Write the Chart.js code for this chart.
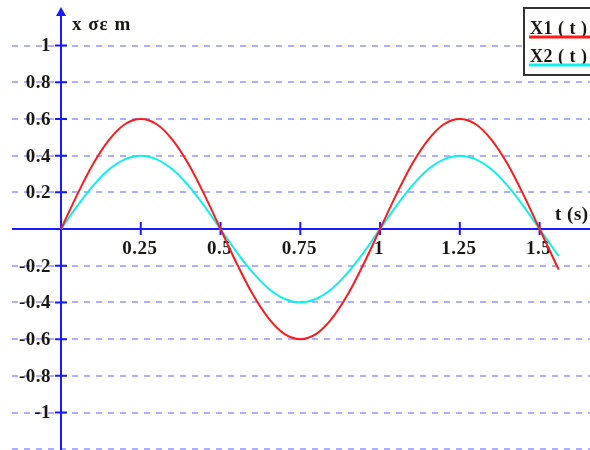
<!DOCTYPE html>
<html>
<head>
<meta charset="utf-8">
<script src="https://cdn.jsdelivr.net/npm/chart.js@4"></script>
<style>
  html, body { margin: 0; padding: 0; background: #fff; }
  #wrap { width: 590px; height: 450px; }
</style>
</head>
<body>
<div id="wrap"><canvas id="waveChart"></canvas></div>
<script>
// values (t in s, x in m)
const times = [0, 0.05, 0.1, 0.15, 0.2, 0.25, 0.3, 0.35, 0.4, 0.45, 0.5, 0.55, 0.6, 0.65, 0.7, 0.75,
    0.8, 0.85, 0.9, 0.95, 1, 1.05, 1.1, 1.15, 1.2, 1.25, 1.3, 1.35, 1.4, 1.45, 1.5, 1.55, 1.56];
const x1Values = [0, 0.185, 0.353, 0.485, 0.571, 0.6, 0.571, 0.485, 0.353, 0.185, 0, -0.185, -0.353, -0.485, -0.571, -0.6,
    -0.571, -0.485, -0.353, -0.185, 0, 0.185, 0.353, 0.485, 0.571, 0.6, 0.571, 0.485, 0.353, 0.185, 0, -0.185, -0.221];
const x2Values = [0, 0.124, 0.235, 0.324, 0.38, 0.4, 0.38, 0.324, 0.235, 0.124, 0, -0.124, -0.235, -0.324, -0.38, -0.4,
    -0.38, -0.324, -0.235, -0.124, 0, 0.124, 0.235, 0.324, 0.38, 0.4, 0.38, 0.324, 0.235, 0.124, 0, -0.124, -0.147];
const seriesLabels = ['X1 ( t )', 'X2 ( t )'];
const xTicks = [0.25, 0.5, 0.75, 1, 1.25, 1.5];
const xTickLabels = ['0.25', '0.5', '0.75', '1', '1.25', '1.5'];
const yTicks = [1, 0.8, 0.6, 0.4, 0.2, -0.2, -0.4, -0.6, -0.8, -1];
const yTickLabels = ['1', '0.8', '0.6', '0.4', '0.2', '-0.2', '-0.4', '-0.6', '-0.8', '-1'];
const gridLines = [1, 0.8, 0.6, 0.4, 0.2, 0, -0.2, -0.4, -0.6, -0.8, -1, -1.2];

const AXIS_BLUE = '#1a1aff';
const TEXT = '#1a1712';
const SERIF = '"Liberation Serif", "Times New Roman", serif';

const axesPlugin = {
    id: 'axesPlugin',
    beforeDatasetsDraw(chart) {
        const ctx = chart.ctx;
        const xs = chart.scales.x, ys = chart.scales.y;
        const area = chart.chartArea;
        const x0 = xs.getPixelForValue(0), y0 = ys.getPixelForValue(0);
        ctx.save();

        // dashed grid
        ctx.strokeStyle = 'rgba(160,160,255,0.85)';
        ctx.lineWidth = 2;
        ctx.setLineDash([6, 6]);
        gridLines.forEach(v => {
            const y = Math.round(ys.getPixelForValue(v));
            ctx.beginPath();
            ctx.moveTo(area.left, y);
            ctx.lineTo(area.right, y);
            ctx.stroke();
        });
        ctx.setLineDash([]);

        // axes
        ctx.strokeStyle = AXIS_BLUE;
        ctx.fillStyle = AXIS_BLUE;
        ctx.lineWidth = 2;
        ctx.beginPath();
        ctx.moveTo(area.left, y0);
        ctx.lineTo(area.right, y0);
        ctx.moveTo(x0, area.bottom);
        ctx.lineTo(x0, 14);
        ctx.stroke();
        ctx.beginPath();
        ctx.moveTo(x0, 7);
        ctx.lineTo(x0 - 5, 16);
        ctx.lineTo(x0 + 5, 16);
        ctx.closePath();
        ctx.fill();

        // ticks
        ctx.beginPath();
        yTicks.forEach(v => {
            const y = ys.getPixelForValue(v);
            ctx.moveTo(x0 - 6, y);
            ctx.lineTo(x0 + 6, y);
        });
        xTicks.forEach(v => {
            const x = xs.getPixelForValue(v);
            ctx.moveTo(x, y0 - 7);
            ctx.lineTo(x, y0 + 6);
        });
        ctx.stroke();

        // labels
        ctx.fillStyle = TEXT;
        ctx.font = 'bold 19px ' + SERIF;
        ctx.letterSpacing = '0.5px';
        ctx.textAlign = 'right';
        ctx.textBaseline = 'middle';
        yTicks.forEach((v, i) => ctx.fillText(yTickLabels[i], x0 - 10, ys.getPixelForValue(v) + 1));
        ctx.textAlign = 'center';
        xTicks.forEach((v, i) => ctx.fillText(xTickLabels[i], xs.getPixelForValue(v) - 1, y0 + 20));

        ctx.font = 'bold 19px ' + SERIF;
        ctx.letterSpacing = '1px';
        ctx.textAlign = 'left';
        ctx.textBaseline = 'alphabetic';
        ctx.fillText('x σε m', x0 + 11, 30);
        ctx.letterSpacing = '0.5px';
        ctx.fillText('t (s)', 555, 220);
        ctx.restore();
    },
    afterDatasetsDraw(chart) {
        const ctx = chart.ctx;
        ctx.save();
        ctx.fillStyle = '#fff';
        ctx.fillRect(524, 8, 70, 67);
        ctx.strokeStyle = '#333';
        ctx.lineWidth = 2;
        ctx.strokeRect(524, 8, 70, 67);
        ctx.font = 'bold 18px ' + SERIF;
        ctx.letterSpacing = '0.5px';
        ctx.textAlign = 'left';
        ctx.textBaseline = 'alphabetic';
        chart.data.datasets.forEach((ds, i) => {
            const base = 34 + i * 28;
            ctx.fillStyle = TEXT;
            ctx.fillText(ds.label, 530, base);
            ctx.strokeStyle = ds.borderColor;
            ctx.lineWidth = 3;
            ctx.beginPath();
            ctx.moveTo(529, base + 3);
            ctx.lineTo(592, base + 3);
            ctx.stroke();
        });
        ctx.restore();
    }
};

const toPoints = vals => times.map((t, i) => ({ x: t, y: vals[i] }));

new Chart(document.getElementById('waveChart'), {
    type: 'line',
    data: {
        datasets: [{
            label: seriesLabels[0],
            data: toPoints(x1Values),
            borderColor: '#ff1a1a',
            borderWidth: 2,
            pointRadius: 0,
            tension: 0.3
        }, {
            label: seriesLabels[1],
            data: toPoints(x2Values),
            borderColor: '#10eeee',
            borderWidth: 2,
            pointRadius: 0,
            tension: 0.3
        }]
    },
    options: {
        responsive: true,
        maintainAspectRatio: false,
        animation: false,
        layout: { padding: { left: 12, top: 0, right: 0, bottom: 0 } },
        plugins: { legend: { display: false }, tooltip: { enabled: false } },
        scales: {
            x: { type: 'linear', min: -0.1536, max: 1.658, display: false },
            y: { type: 'linear', min: -1.204, max: 1.248, display: false }
        }
    },
    plugins: [axesPlugin]
});
</script>
</body>
</html>
